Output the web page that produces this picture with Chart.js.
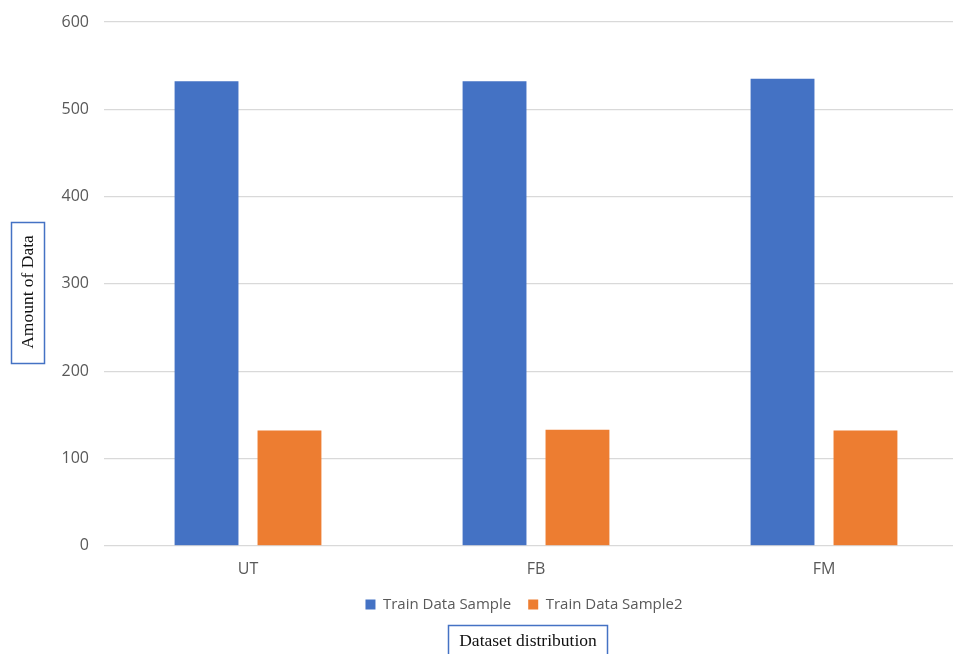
<!DOCTYPE html>
<html>
<head>
<meta charset="utf-8">
<script src="https://cdn.jsdelivr.net/npm/chart.js@4/dist/chart.umd.min.js"></script>
<style>
  html, body { margin: 0; padding: 0; background: #ffffff; }
  #wrap { width: 953px; height: 654px; position: relative; overflow: hidden; }
  #chart { position: absolute; left: 0; top: 0; }
</style>
</head>
<body>
<div id="wrap"><canvas id="chart" width="972" height="654"></canvas></div>
<script>
// Dataset distribution per class
const categories = ['UT', 'FB', 'FM'];
const trainSample = [532, 532, 535];
const trainSample2 = [132, 133, 132];
const yTicks = [0, 100, 200, 300, 400, 500, 600];
const seriesNames = ['Train Data Sample', 'Train Data Sample2'];
const yTitle = 'Amount of Data';
const xTitle = 'Dataset distribution';

const sansFont = '"Open Sans", "Liberation Sans", sans-serif';

// Boxed axis titles drawn in a serif face
const boxedTitles = {
  id: 'boxedTitles',
  afterDraw(chart) {
    const ctx = chart.ctx;
    ctx.save();
    ctx.strokeStyle = '#4472C4';
    ctx.lineWidth = 1.5;
    ctx.fillStyle = '#111111';
    ctx.font = '17.5px "Liberation Serif", "DejaVu Serif", serif';
    ctx.textAlign = 'center';
    ctx.textBaseline = 'middle';

    // vertical title on the left
    ctx.strokeRect(11.5, 222.5, 33, 141);
    ctx.save();
    ctx.translate(28, 292);
    ctx.rotate(-Math.PI / 2);
    ctx.fillText(yTitle, 0, 0);
    ctx.restore();

    // horizontal title at the bottom
    ctx.strokeRect(448.5, 625.5, 159, 40);
    ctx.fillText(xTitle, 528, 641);
    ctx.restore();
  }
};

// Nudge the legend row so it sits centred under the whole figure
const legendShift = {
  id: 'legendShift',
  afterLayout(chart) {
    const lg = chart.legend;
    if (lg) { lg.left += 15; lg.right += 15; }
  }
};

new Chart(document.getElementById('chart'), {
  type: 'bar',
  data: {
    labels: categories,
    datasets: [
      { label: seriesNames[0], data: trainSample, backgroundColor: '#4472C4', borderWidth: 0 },
      { label: seriesNames[1], data: trainSample2, backgroundColor: '#ED7D31', borderWidth: 0 }
    ]
  },
  options: {
    responsive: false,
    animation: false,
    devicePixelRatio: 1,
    categoryPercentage: 0.576,
    barPercentage: 0.77,
    layout: { padding: { left: 50, right: 4, top: 22, bottom: 32 } },
    plugins: {
      legend: {
        position: 'bottom',
        labels: {
          boxWidth: 10,
          boxHeight: 10,
          padding: 17,
          color: '#595959',
          font: { family: sansFont, size: 15 }
        }
      },
      tooltip: { enabled: false }
    },
    scales: {
      x: {
        afterFit(scale) { scale.height = scale.height - 13; },
        grid: { display: false, drawTicks: false },
        border: { display: false },
        ticks: {
          color: '#595959',
          padding: 14,
          font: { family: sansFont, size: 16 }
        }
      },
      y: {
        min: 0,
        max: 600,
        afterFit(scale) { scale.width = 54; scale.paddingTop = 0; },
        afterBuildTicks(scale) { scale.ticks = yTicks.map(v => ({ value: v })); },
        grid: { color: '#D9D9D9', lineWidth: 1.3, drawTicks: false },
        border: { display: false },
        ticks: {
          color: '#595959',
          padding: 15,
          font: { family: sansFont, size: 16 }
        }
      }
    }
  },
  plugins: [boxedTitles, legendShift]
});
</script>
</body>
</html>
